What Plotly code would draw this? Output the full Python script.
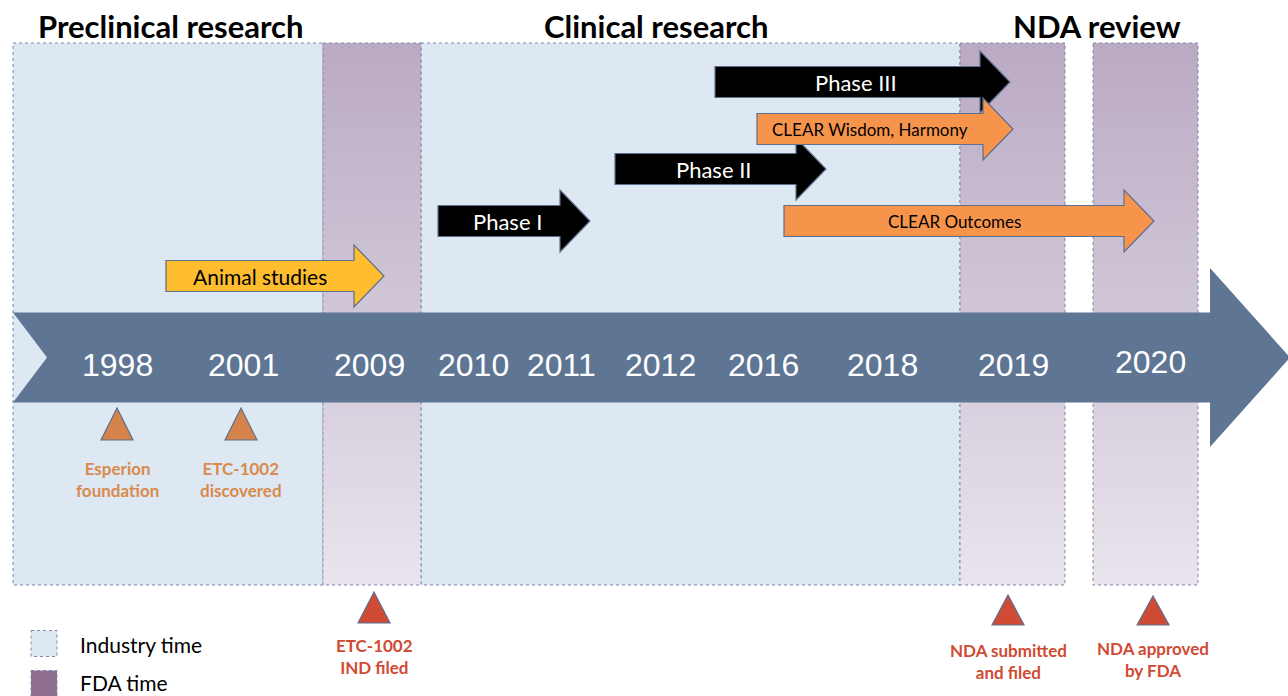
import plotly.graph_objects as go

# ---------------- data ----------------
years = ["1998", "2001", "2009", "2010", "2011", "2012", "2016", "2018", "2019", "2020"]
year_pos = [117, 243, 369, 473, 561, 660, 763, 882, 1013, 1150]

# periods along the timeline: (kind, start, end)
period_kind = ["industry", "fda", "industry", "fda", "fda"]
period_start = [13, 323, 421, 960, 1093]
period_end = [323, 421, 960, 1065, 1198]

section_titles = ["Preclinical research", "Clinical research", "NDA review"]
section_pos = [171, 656, 1097]

# study arrows: name, start, end (tip), row, colour key
study_names = ["Animal studies", "Phase I", "Phase II", "Phase III",
               "CLEAR Wisdom, Harmony", "CLEAR Outcomes"]
study_start = [166, 438, 615, 715, 757, 784]
study_end = [384, 590, 826, 1010, 1013, 1154]
study_row = [276, 221, 169, 82, 129, 221]
study_kind = ["animal", "phase", "phase", "phase", "clear", "clear"]

# milestones below the timeline
event_labels = ["Esperion<br>foundation", "ETC-1002<br>discovered", "ETC-1002<br>IND filed",
                "NDA submitted<br>and filed", "NDA approved<br>by FDA"]
event_pos = [117, 241, 374, 1008, 1153]
event_kind = ["company", "company", "regulatory", "regulatory", "regulatory"]

legend_labels = ["Industry time", "FDA time"]

# ---------------- styles ----------------
W, H = 1288, 696
TOP, BOTTOM = 43, 585
BAND_Y, BAND_H = 357.5, 45
AXIS_COLOR = "#5E7594"
BLUE = "#DEE8F3"
BORDER = "#7F88A3"
PURPLE_TOP, PURPLE_BOT = "#BAAAC3", "#E9E4ED"
FONT = "Lato, Open Sans"
study_colors = {"animal": ("#FDBD2E", "black", 21),
                "phase": ("#000000", "white", 22),
                "clear": ("#F7944C", "black", 17)}
event_style = {"company": dict(tri="#D5834A", txt="#D98A4C", ytri=(408, 440), ytxt=(468, 491)),
               "regulatory": dict(tri="#CF4B33", txt="#CF4B33", ytri=(592, 623), ytxt=(645, 668))}
event_ytri_override = {3: (595, 625), 4: (596, 625)}
event_ytxt_override = {3: (650, 672), 4: (648, 671)}

fig = go.Figure()
shapes = []
annotations = []

# industry time background (drawn below traces)
for k, s, e in zip(period_kind, period_start, period_end):
    if k == "industry":
        shapes.append(dict(type="rect", xref="x", yref="y", x0=s, x1=e, y0=TOP, y1=BOTTOM,
                           fillcolor=BLUE, line=dict(color=BORDER, width=1, dash="dot"),
                           layer="below"))

# FDA time periods with vertical gradient
for k, s, e in zip(period_kind, period_start, period_end):
    if k == "fda":
        fig.add_trace(go.Scatter(
            x=[s, e, e, s, s], y=[TOP, TOP, BOTTOM, BOTTOM, TOP], mode="lines",
            fill="toself",
            fillgradient=dict(type="vertical", start=TOP, stop=BOTTOM,
                              colorscale=[[0, PURPLE_TOP], [1, PURPLE_BOT]]),
            line=dict(color=BORDER, width=1, dash="dot"),
            hoverinfo="skip", showlegend=False))

# timeline arrow
x_left = period_start[0]
head_base, tip = 1210, 1290
notch = 47
head_h = 89.5
path = (f"M {x_left},{BAND_Y-BAND_H} L {head_base},{BAND_Y-BAND_H} L {head_base},{BAND_Y-head_h} "
        f"L {tip},{BAND_Y} L {head_base},{BAND_Y+head_h} L {head_base},{BAND_Y+BAND_H} "
        f"L {x_left},{BAND_Y+BAND_H} L {notch},{BAND_Y} Z")
shapes.append(dict(type="path", xref="x", yref="y", path=path, fillcolor=AXIS_COLOR,
                   line=dict(width=0)))

for yl, xp in zip(years, year_pos):
    annotations.append(dict(x=xp, y=365 if yl != "2020" else 362, text=yl, showarrow=False,
                            font=dict(family="Liberation Sans, Arial", size=32, color="white")))

# study arrows
def block_arrow(x0, x1, yc, half=15.5, head_half=31, head_len=30):
    xb = x1 - head_len
    return (f"M {x0},{yc-half} L {xb},{yc-half} L {xb},{yc-head_half} L {x1},{yc} "
            f"L {xb},{yc+head_half} L {xb},{yc+half} L {x0},{yc+half} Z")

for name, s, e, r, k in zip(study_names, study_start, study_end, study_row, study_kind):
    fill, tc, fs = study_colors[k]
    shapes.append(dict(type="path", xref="x", yref="y", path=block_arrow(s, e, r),
                       fillcolor=fill, line=dict(color="#5B6F8E", width=1.2)))
    body_end = e - 30
    annotations.append(dict(x=(s + body_end) / 2 + (8 if k == "phase" else 0), y=r, text=name,
                            showarrow=False,
                            font=dict(family=FONT, size=fs, color=tc)))

# section titles
for t, xp in zip(section_titles, section_pos):
    annotations.append(dict(x=xp, y=26, text=f"<b>{t}</b>", showarrow=False,
                            font=dict(family=FONT, size=31, color="black")))

# milestones
for i, (lab, xp, k) in enumerate(zip(event_labels, event_pos, event_kind)):
    st = event_style[k]
    y0, y1 = event_ytri_override.get(i, st["ytri"])
    shapes.append(dict(type="path", xref="x", yref="y",
                       path=f"M {xp-16},{y1} L {xp},{y0} L {xp+16},{y1} Z",
                       fillcolor=st["tri"], line=dict(color="#5B6F8E", width=1.2)))
    ya, yb = event_ytxt_override.get(i, st["ytxt"])
    annotations.append(dict(x=xp, y=(ya + yb) / 2, text=f"<b>{lab}</b>", showarrow=False,
                            font=dict(family=FONT, size=17, color=st["txt"]),
                            align="center"))

# legend
leg_fill = [BLUE, "#8E6F91"]
leg_y = [643.5, 683.5]
leg_text_y = [644.5, 682]
for lab, c, yc, yt in zip(legend_labels, leg_fill, leg_y, leg_text_y):
    shapes.append(dict(type="rect", xref="x", yref="y", x0=31, x1=57, y0=yc - 13, y1=yc + 13,
                       fillcolor=c, line=dict(color=BORDER, width=1, dash="dot")))
    annotations.append(dict(x=78, y=yt, text=lab, showarrow=False, xanchor="left",
                            font=dict(family=FONT, size=21, color="black")))

fig.update_layout(
    width=W, height=H, margin=dict(l=0, r=0, t=0, b=0),
    paper_bgcolor="white", plot_bgcolor="white",
    xaxis=dict(range=[0, W], visible=False, fixedrange=True),
    yaxis=dict(range=[H, 0], visible=False, fixedrange=True),
    shapes=shapes, annotations=annotations, showlegend=False,
)
fig.write_html("out.html", config={"displayModeBar": False},
               post_script="document.body.style.margin='0';document.body.style.overflow='hidden';")
